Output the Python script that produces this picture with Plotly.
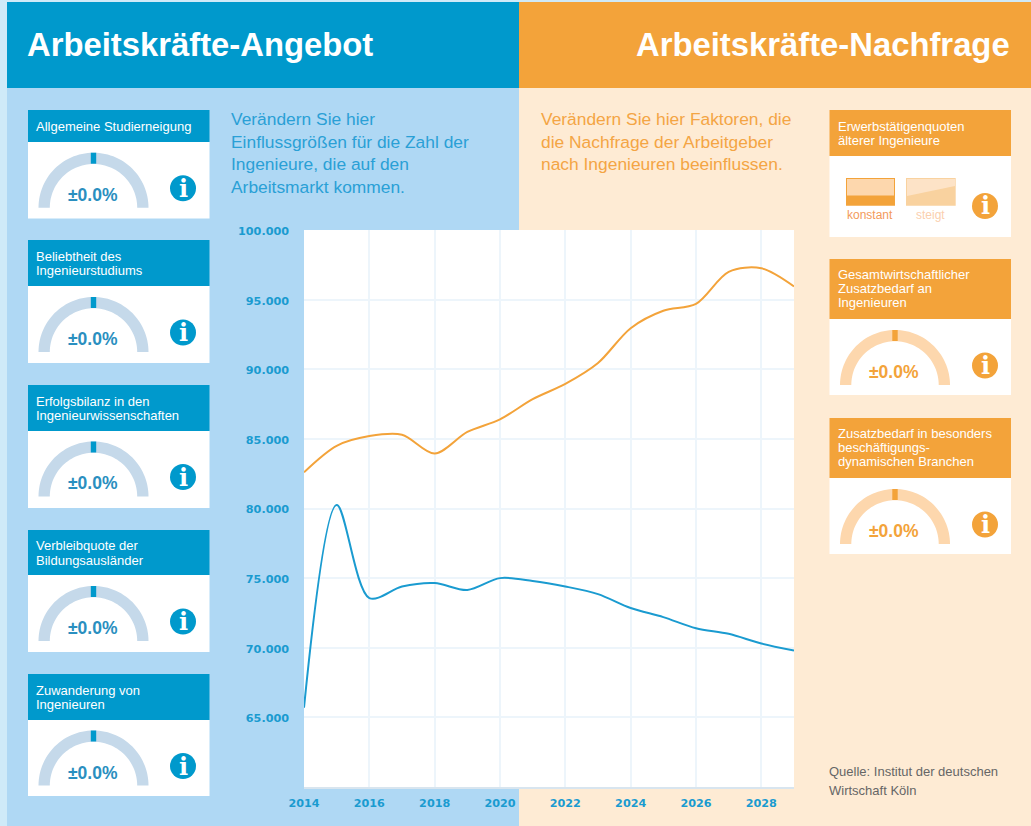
import numpy as np
import plotly.graph_objects as go

W, H = 1031, 826

years = list(range(2014, 2030))
angebot = [65700, 80250, 73570, 74400, 74650, 74150, 75000, 74800, 74400, 73850, 72850, 72200, 71400, 71000, 70300, 69800]
nachfrage = [82600, 84500, 85200, 85300, 83950, 85500, 86400, 87850, 88950, 90450, 92950, 94200, 94700, 97000, 97250, 95950]
y_ticks = [65000, 70000, 75000, 80000, 85000, 90000, 95000, 100000]
x_ticks = list(range(2014, 2030, 2))

title_left = "Arbeitskräfte-Angebot"
title_right = "Arbeitskräfte-Nachfrage"
intro_left = ["Verändern Sie hier", "Einflussgrößen für die Zahl der", "Ingenieure, die auf den", "Arbeitsmarkt kommen."]
intro_right = ["Verändern Sie hier Faktoren, die", "die Nachfrage der Arbeitgeber", "nach Ingenieuren beeinflussen."]
source_lines = ["Quelle: Institut der deutschen", "Wirtschaft Köln"]
gauge_text = "±0.0%"

BLUE = "#0099cc"
ORANGE = "#f3a33a"
PANEL_B = "#afd8f4"
PANEL_O = "#feebd4"
ARC_B = "#c5d9ea"
ARC_O = "#fdd7ad"

# label lines, header top, header bottom, card bottom, gauge base y
cards_left = [
    (["Allgemeine Studierneigung"], 110, 142, 218.5, 207.7),
    (["Beliebtheit des", "Ingenieurstudiums"], 240, 286, 363, 352),
    (["Erfolgsbilanz in den", "Ingenieurwissenschaften"], 385, 431, 508, 496.5),
    (["Verbleibquote der", "Bildungsausländer"], 530, 575, 652, 641),
    (["Zuwanderung von", "Ingenieuren"], 674, 720, 796, 785.5),
]
cards_right = [
    (["Erwerbstätigenquoten", "älterer Ingenieure"], 110, 156, 237, None),
    (["Gesamtwirtschaftlicher", "Zusatzbedarf an", "Ingenieuren"], 259, 319, 395, 385),
    (["Zusatzbedarf in besonders", "beschäftigungs-", "dynamischen Branchen"], 418, 478, 554, 544),
]


def px(x):
    return x / W


def py(y):
    return 1 - y / H


shapes = []
annotations = []


def rect(x0, y0, x1, y1, color):
    shapes.append(dict(type="rect", xref="paper", yref="paper", x0=px(x0), x1=px(x1), y0=py(y0), y1=py(y1),
                       fillcolor=color, line_width=0, layer="below"))


def poly(points, color):
    d = "M " + " L ".join(f"{px(a):.5f},{py(b):.5f}" for a, b in points) + " Z"
    shapes.append(dict(type="path", xref="paper", yref="paper", path=d, fillcolor=color, line_width=0, layer="below"))


def text(x, y, s, size, color, anchor="left", family="Liberation Sans", bold=False):
    annotations.append(dict(xref="paper", yref="paper", x=px(x), y=py(y), text=f"<b>{s}</b>" if bold else s,
                            showarrow=False, xanchor=anchor, yanchor="middle", borderpad=0,
                            font=dict(size=size, color=color, family=family)))


def gauge(cx, base, arc, mark, label_color):
    t = np.linspace(np.pi, 0, 61)
    outer = [(cx + 55 * np.cos(a), base - 55 * np.sin(a)) for a in t]
    inner = [(cx + 43.7 * np.cos(a), base - 43.7 * np.sin(a)) for a in t[::-1]]
    poly(outer + inner, arc)
    rect(cx - 2.7, base - 55, cx + 2.7, base - 44, mark)
    text(cx - 1, base - 13, gauge_text, 17.5, label_color, "center", bold=True)


def info(cx, cy, color):
    shapes.append(dict(type="circle", xref="paper", yref="paper", x0=px(cx - 13), x1=px(cx + 13),
                       y0=py(cy + 13), y1=py(cy - 13), fillcolor=color, line_width=0, layer="below"))
    text(cx, cy, "i", 24, "white", "center", family="DejaVu Serif", bold=True)


# page background
rect(0, 0, W, H, "#cfeaf8")
rect(7, 88, 519, H, PANEL_B)
rect(519, 88, W, H, PANEL_O)
rect(7, 2, 519, 88, BLUE)
rect(519, 2, W, 88, ORANGE)
# chart backing
rect(304, 230, 794, 787, "#ffffff")

text(26, 44, title_left, 32.8, "white", bold=True)
text(1011, 44, title_right, 32.8, "white", "right", bold=True)

for i, line in enumerate(intro_left):
    text(230, 119 + i * 22.6, line, 17.4, "#2aa0d6")
for i, line in enumerate(intro_right):
    text(540, 119 + i * 22.6, line, 17.4, "#f4a544")
for i, line in enumerate(source_lines):
    text(828, 771 + i * 19, line, 13, "#666666")

for lines, y0, y1, y2, base in cards_left:
    rect(28, y0, 209.5, y1, BLUE)
    rect(28, y1, 209.5, y2, "#ffffff")
    c = (y0 + y1) / 2 + 0.6
    for i, line in enumerate(lines):
        text(35, c + (i - (len(lines) - 1) / 2) * 14.5, line, 13, "white")
    gauge(93.5, base, ARC_B, BLUE, "#2a8fc0")
    info(183, base - 19.5, BLUE)

for lines, y0, y1, y2, base in cards_right:
    rect(829.5, y0, 1011, y1, ORANGE)
    rect(829.5, y1, 1011, y2, "#ffffff")
    c = (y0 + y1) / 2 + (0.6 if len(lines) == 2 else -0.5)
    for i, line in enumerate(lines):
        text(837, c + (i - (len(lines) - 1) / 2) * 14.5, line, 13, "white")
    if base:
        gauge(895, base, ARC_O, ORANGE, ORANGE)
        info(985, base - 19.5, ORANGE)

# konstant / steigt toggle
rect(846, 178, 895, 205.7, ORANGE)
rect(847, 179, 894, 195.5, ARC_O)
rect(906, 178, 955.7, 205.7, "#f9d29f")
poly([(907, 179), (955, 179), (955, 186), (907, 196)], "#fde3c7")
text(869.5, 214.5, "konstant", 12, "#f39a5a", "center")
text(930, 214.5, "steigt", 12, "#fbcfae", "center")
info(985, 206, ORANGE)

fig = go.Figure()
fig.add_trace(go.Scatter(x=years, y=angebot, mode="lines", name="Angebot",
                         line=dict(color="#1a9bd0", width=2, shape="spline", smoothing=0.9)))
fig.add_trace(go.Scatter(x=years, y=nachfrage, mode="lines", name="Nachfrage",
                         line=dict(color=ORANGE, width=2, shape="spline", smoothing=0.9)))

tick_font = dict(family="DejaVu Sans", size=11.2, color="#1a9bd0", weight="bold")
fig.update_layout(
    width=W, height=H, margin=dict(l=0, r=0, t=0, b=0, pad=0), autosize=False,
    paper_bgcolor="#cfeaf8", plot_bgcolor="#ffffff", showlegend=False,
    separators=",.", shapes=shapes, annotations=annotations,
    xaxis=dict(domain=[px(304), px(794)], range=[2014, 2029], tickvals=x_ticks, tickformat="d", automargin=False,
               showgrid=True, gridcolor="#edf5fb", gridwidth=1.5, zeroline=False,
               showline=True, linecolor="#d8e5ef", linewidth=1.5,
               ticks="", tickfont=tick_font, ticklabelstandoff=5, fixedrange=True),
    yaxis=dict(domain=[py(787), py(230)], range=[60000, 100000], tickvals=y_ticks, tickformat=",d", automargin=False,
               showgrid=True, gridcolor="#edf5fb", gridwidth=1.5, zeroline=False, showline=False,
               ticks="", tickfont=tick_font, ticklabelstandoff=14, ticklabelshift=1, fixedrange=True),
)

fig.write_html("out.html", post_script="document.body.style.margin='0';document.body.style.overflow='hidden';",
               config=dict(displayModeBar=False))
